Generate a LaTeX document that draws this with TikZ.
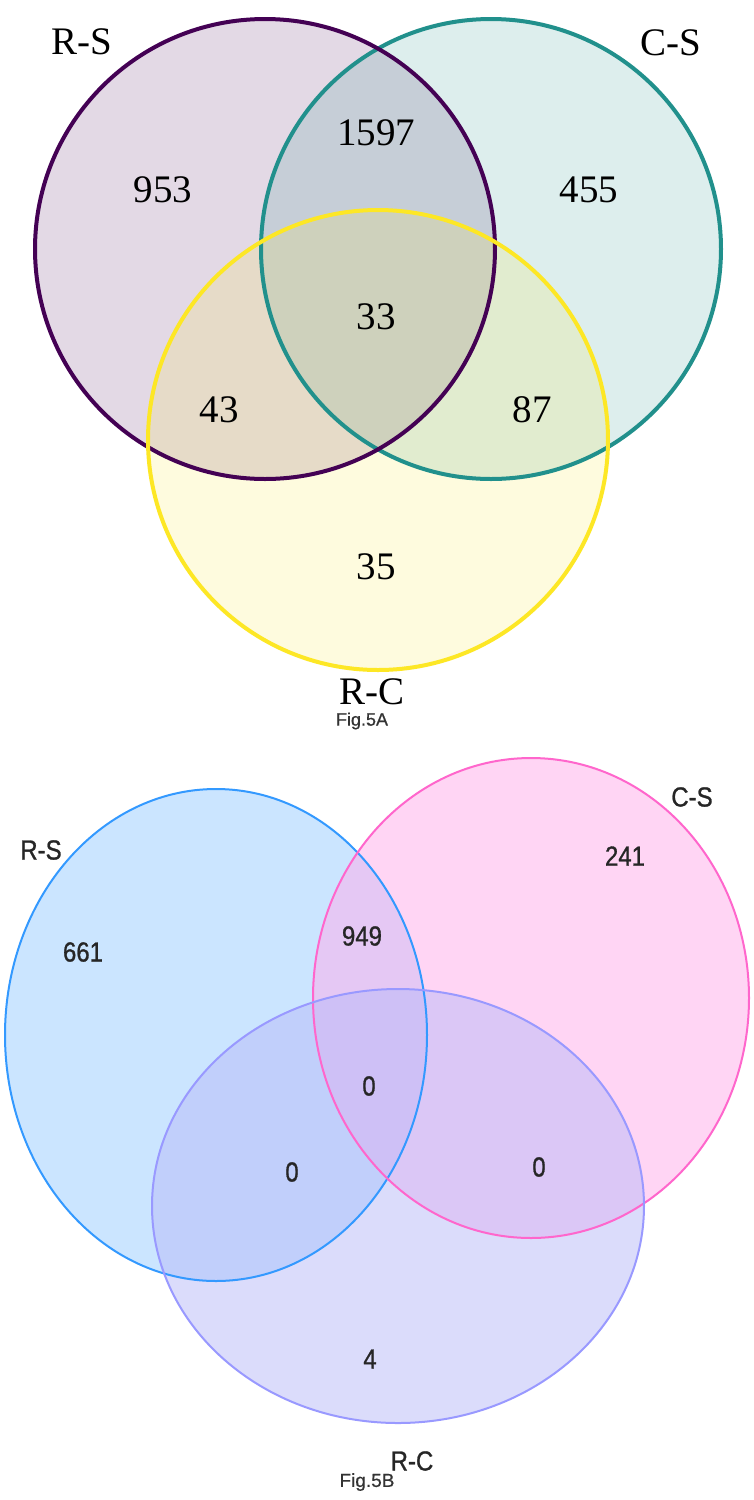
\documentclass[tikz,border=0pt]{standalone}
\usepackage{fontspec}
\setmainfont{Liberation Serif}
\newfontfamily\arialf{Liberation Sans}[FakeBold=1.0]
\newfontfamily\arialr{Liberation Sans}[FakeBold=0.6]
\definecolor{vpurple}{HTML}{440154}
\definecolor{vteal}{HTML}{21908C}
\definecolor{vyellow}{HTML}{FDE725}
\definecolor{bblue}{HTML}{3399FF}
\definecolor{bbluef}{HTML}{99CCFF}
\definecolor{bpink}{HTML}{FF66CC}
\definecolor{bpinkf}{HTML}{FFADEB}
\definecolor{bviolet}{HTML}{9999FF}
\definecolor{bvioletf}{HTML}{B8BAF8}
\begin{document}
\begin{tikzpicture}[x=0.5pt,y=-0.5pt,
  topnum/.style={font=\fontsize{19.5}{22}\selectfont, inner sep=0pt},
  botnum/.style={font=\arialf\fontsize{12}{14}\selectfont, inner sep=0pt, yscale=1.15, text=black!85},
  figlab/.style={font=\arialr\fontsize{9.5}{11}\selectfont, inner sep=0pt, text=black!80},
  topring/.style={line width=2pt},
  botring/.style={line width=1pt}]
\useasboundingbox[fill=white] (0,0) rectangle (754,1500);
% ---------- Fig 5A ----------
\fill[vpurple, opacity=0.15] (265,249) circle[radius=115pt];
\fill[vteal, opacity=0.15] (491,249) circle[radius=115pt];
\fill[vyellow, opacity=0.15] (378,440) circle[radius=115pt];
\draw[topring, vteal] (491,249) circle[radius=115pt];
\draw[topring, vpurple] (265,249) circle[radius=115pt];
\draw[topring, vyellow] (378,440) circle[radius=115pt];
\node[topnum] (lrs) at (82,42) {R-S};
\node[topnum] (lcs) at (671,43) {C-S};
\node[topnum] (lrc) at (372,692) {R-C};
\node[topnum] (n1597) at (376,133) {1597};
\node[topnum] (n953) at (163,190) {953};
\node[topnum] (n455) at (589,190) {455};
\node[topnum] (n33) at (376,317) {33};
\node[topnum] (n43) at (219,410) {43};
\node[topnum] (n87) at (532,410) {87};
\node[topnum] (n35) at (376,567) {35};
\node[figlab, font=\arialr\fontsize{9}{11}\selectfont] (f5a) at (362,721) {Fig.5A};
% ---------- Fig 5B ----------
\fill[bbluef, opacity=0.5] (216,1035) ellipse[x radius=105.5pt, y radius=123pt];
\fill[bpinkf, opacity=0.5] (531,998) ellipse[x radius=109pt, y radius=120pt];
\fill[bvioletf, opacity=0.5] (398,1206) ellipse[x radius=123pt, y radius=108.5pt];
\draw[botring, bblue] (216,1035) ellipse[x radius=105.5pt, y radius=123pt];
\draw[botring, bpink] (531,998) ellipse[x radius=109pt, y radius=120pt];
\draw[botring, bviolet] (398,1206) ellipse[x radius=123pt, y radius=108.5pt];
\node[botnum] (brs) at (41,850) {R-S};
\node[botnum] (bcs) at (692,797) {C-S};
\node[botnum] (brc) at (412,1461) {R-C};
\node[botnum] (b241) at (625,856) {241};
\node[botnum] (b661) at (83,952) {661};
\node[botnum] (b949) at (362,936) {949};
\node[botnum] (b0c) at (369,1086) {0};
\node[botnum] (b0l) at (292,1172) {0};
\node[botnum] (b0r) at (539,1167) {0};
\node[botnum] (b4) at (370,1359) {4};
\node[figlab] (f5b) at (367,1482) {Fig.5B};
\end{tikzpicture}
\end{document}
